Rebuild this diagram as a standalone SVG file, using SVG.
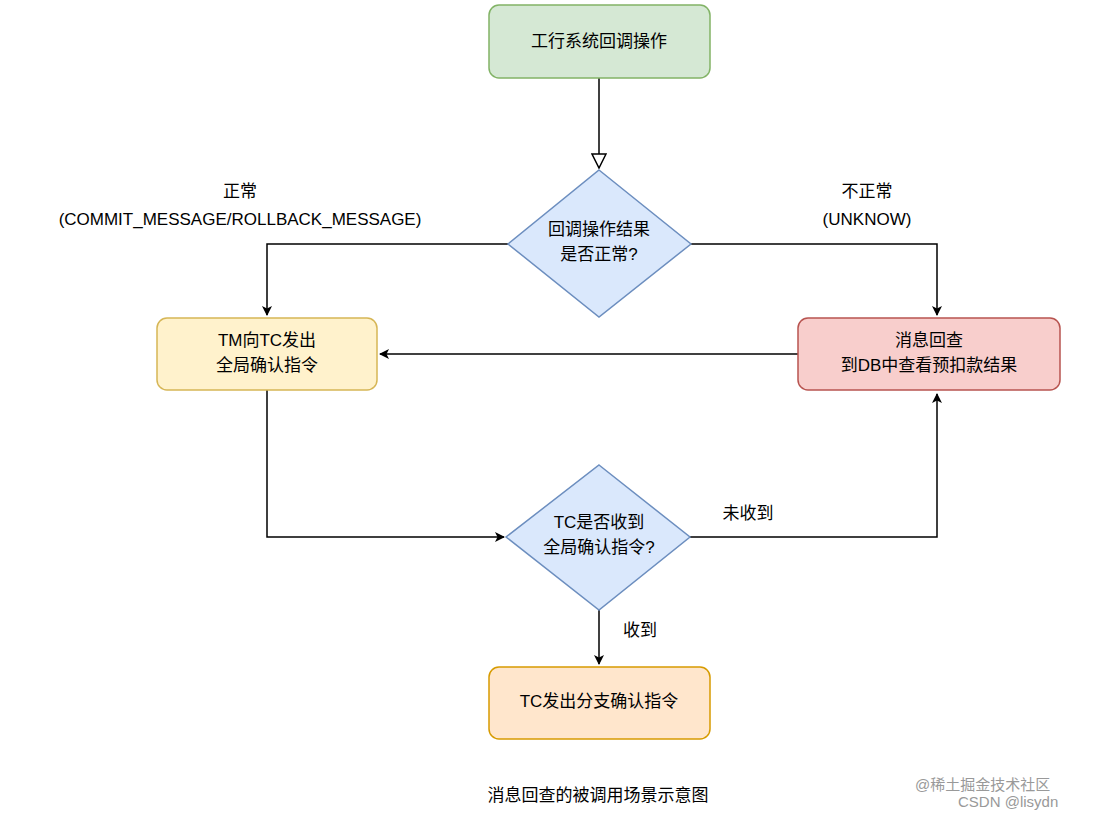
<svg xmlns="http://www.w3.org/2000/svg" width="1098" height="818" viewBox="0 0 1098 818">
<style>
text{font-family:"Liberation Sans","Noto Sans CJK SC",sans-serif;font-size:17px;fill:#000;text-anchor:middle;dominant-baseline:middle}
.c{fill:none;stroke:#000;stroke-width:1.5}
.wm{fill:#999;font-size:15px;text-anchor:start}
</style>
<defs>
<marker id="a" markerWidth="10" markerHeight="10" refX="9" refY="5" orient="auto" markerUnits="userSpaceOnUse"><path d="M0,0 L10,5 L0,10 L2.5,5 Z" fill="#000"/></marker>
<marker id="h" markerWidth="16" markerHeight="16" refX="15" refY="8" orient="auto" markerUnits="userSpaceOnUse"><path d="M1,1 L15,8 L1,15 Z" fill="#fff" stroke="#000" stroke-width="1.5"/></marker>
</defs>
<rect width="1098" height="818" fill="#fff"/>
<g id="connectors">
<path class="c" d="M599,78 V168" marker-end="url(#h)"/>
<path class="c" d="M508,244 H267 V315" marker-end="url(#a)"/>
<path class="c" d="M691,244 H937 V315" marker-end="url(#a)"/>
<path class="c" d="M798,354 H380" marker-end="url(#a)"/>
<path class="c" d="M267,390 V537 H504" marker-end="url(#a)"/>
<path class="c" d="M690,537 H937 V394" marker-end="url(#a)"/>
<path class="c" d="M599,610 V664" marker-end="url(#a)"/>
<text x="240" y="193">正常</text>
<text x="240" y="221">(COMMIT_MESSAGE/ROLLBACK_MESSAGE)</text>
<text x="867" y="193">不正常</text>
<text x="867" y="221">(UNKNOW)</text>
<text x="748" y="515">未收到</text>
<text x="640" y="632">收到</text>
</g>
<g id="n1"><rect x="489" y="5" width="221" height="73" rx="10" fill="#d5e8d4" stroke="#82b366" stroke-width="1.5"/><text x="599" y="43">工行系统回调操作</text></g>
<g id="d1"><path d="M599,170 L691,244 L599,317 L508,244 Z" fill="#dae8fc" stroke="#6c8ebf" stroke-width="1.5"/><text x="599" y="231">回调操作结果</text><text x="599" y="256">是否正常?</text></g>
<g id="n2"><rect x="157" y="318" width="220" height="72" rx="10" fill="#fff2cc" stroke="#d6b656" stroke-width="1.5"/><text x="267" y="342">TM向TC发出</text><text x="267" y="367">全局确认指令</text></g>
<g id="n3"><rect x="798" y="318" width="262" height="72" rx="10" fill="#f8cecc" stroke="#b85450" stroke-width="1.5"/><text x="929" y="342">消息回查</text><text x="929" y="367">到DB中查看预扣款结果</text></g>
<g id="d2"><path d="M599,465 L690,537 L599,610 L506,537 Z" fill="#dae8fc" stroke="#6c8ebf" stroke-width="1.5"/><text x="599" y="524">TC是否收到</text><text x="599" y="549">全局确认指令?</text></g>
<g id="n4"><rect x="489" y="667" width="221" height="72" rx="10" fill="#ffe6cc" stroke="#d79b00" stroke-width="1.5"/><text x="599" y="703">TC发出分支确认指令</text></g>
<text x="598" y="797">消息回查的被调用场景示意图</text>
<text class="wm" x="915" y="786">@稀土掘金技术社区</text>
<text class="wm" x="958" y="803">CSDN @lisydn</text>
</svg>
